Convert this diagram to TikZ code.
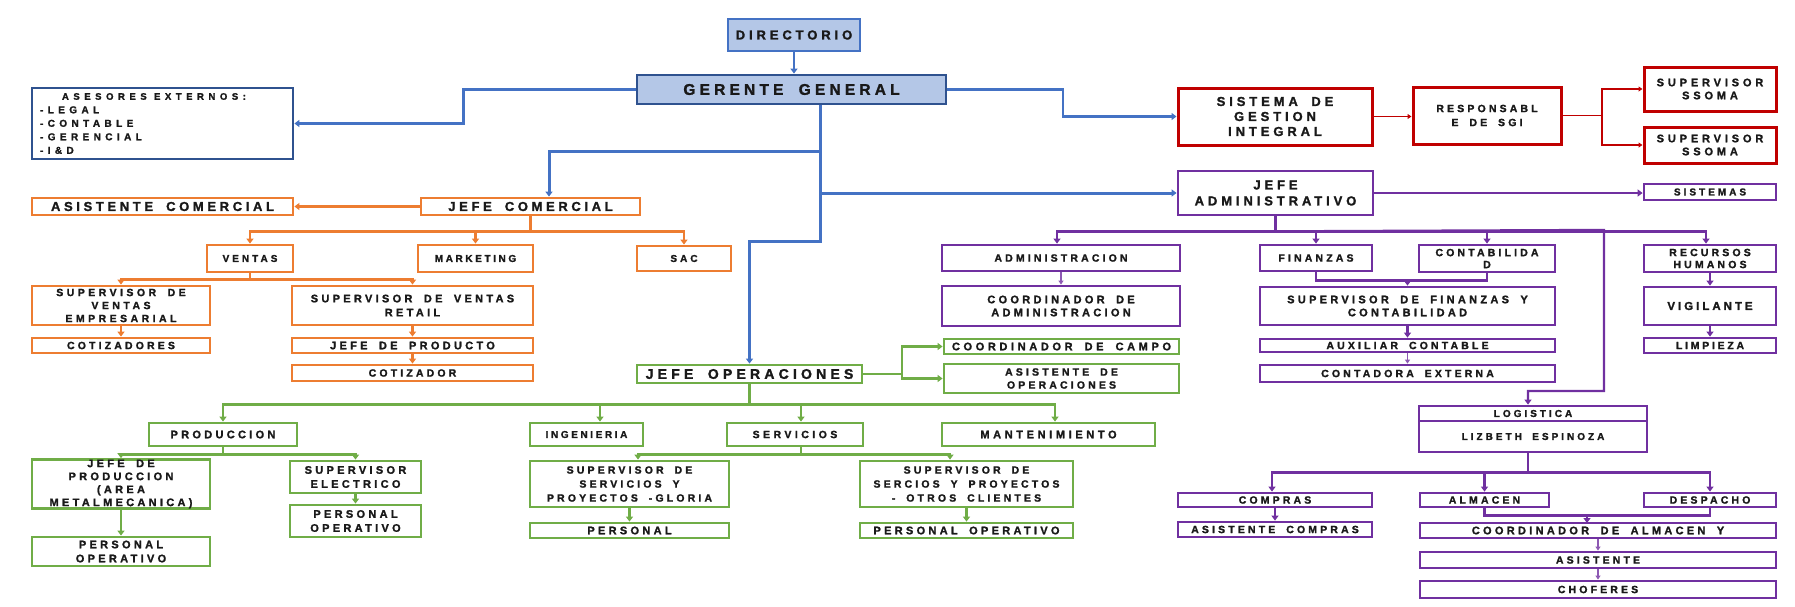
\documentclass[tikz,border=0pt]{standalone}
\usepackage{fontspec}
\setmainfont{Liberation Sans}[WordSpace=1.8, FakeBold=1.5]
\usetikzlibrary{arrows.meta}
\definecolor{cblue}{HTML}{4472C4}
\definecolor{cbluedk}{HTML}{2F528F}
\definecolor{cfill}{HTML}{B4C7E7}
\definecolor{corange}{HTML}{ED7D31}
\definecolor{cgreen}{HTML}{70AD47}
\definecolor{cpurple}{HTML}{7030A0}
\definecolor{cred}{HTML}{C00000}
\pgfdeclarelayer{bg}
\pgfsetlayers{bg,main}
\newcommand\tf[3]{\bfseries\fontsize{#1}{#2}\selectfont\addfontfeature{LetterSpace=#3}}
\newcommand\bx[8]{\node[#2, minimum width={(#5-#3)*1pt}, minimum height={(#6-#4)*1pt}, font={\tf#7}] (#1) at ({(#3+#5)/2},{(#4+#6)/2}) {#8};}
\begin{document}
\begin{tikzpicture}[x=1pt,y=-1pt,
  nb/.style={draw, line width=2.8pt, inner sep=0pt, align=center, fill=white, text=black!90},
  bbox/.style={nb, draw=cblue, fill=cfill},
  obox/.style={nb, draw=corange},
  gbox/.style={nb, draw=cgreen},
  pbox/.style={nb, draw=cpurple},
  rbox/.style={nb, draw=cred, line width=3pt},
  tip/.style={-{Triangle[width=7pt,length=5pt]}},
  bcon/.style={line width=2.4pt, draw=cblue, tip},
  ocon/.style={line width=2.4pt, draw=corange, tip},
  gcon/.style={line width=2.4pt, draw=cgreen, tip},
  pcon/.style={line width=2.4pt, draw=cpurple, tip},
  pthin/.style={line width=1.2pt, draw=cpurple!80, -{Triangle[width=5pt,length=4pt]}},
  rcon/.style={line width=1.5pt, draw=cred, -{Triangle[width=5pt,length=4pt]}}]
\useasboundingbox (0,0) rectangle (1795,606);

% ---------- blue ----------
\bx{dir}{bbox}{728}{19}{860}{51}{{13}{15}{30}}{DIRECTORIO}
\bx{gg}{bbox, draw=cbluedk}{637}{75}{946}{104}{{15.5}{17}{27}}{GERENTE GENERAL}
\node[nb, draw=cbluedk, minimum width=261pt, minimum height=71pt, text width=245pt, align=left, font={\tf{10}{13.5}{44}}] (ases) at (162.5,123.5)
 {{\addfontfeature{LetterSpace=48}\fontsize{9.5}{13.5}\selectfont\hspace*{22pt}ASESORES\hspace{4pt} EXTERNOS:}\\-LEGAL\\-CONTABLE\\-GERENCIAL\\-I\&D};

% ---------- red ----------
\bx{sgi}{rbox}{1178}{88}{1372}{145}{{13}{15}{30}}{SISTEMA DE\\GESTION\\INTEGRAL}
\bx{resp}{rbox}{1413}{87}{1561}{144}{{10.5}{14}{30}}{RESPONSABL\\E DE SGI}
\bx{sup1}{rbox}{1644}{67}{1776}{111}{{11}{13}{35}}{SUPERVISOR\\SSOMA}
\bx{sup2}{rbox}{1644}{127}{1776}{163}{{11}{13}{35}}{SUPERVISOR\\SSOMA}

% ---------- purple ----------
\bx{jadm}{pbox}{1178}{171}{1373}{215}{{13}{16}{30}}{JEFE\\ADMINISTRATIVO}
\bx{sist}{pbox}{1644}{184}{1776}{200}{{10}{11}{30}}{SISTEMAS}
\bx{admin}{pbox}{942}{245}{1180}{271}{{10.5}{12}{30}}{ADMINISTRACION}
\bx{cadmin}{pbox}{942}{286}{1180}{326}{{11}{13}{30}}{COORDINADOR DE\\ADMINISTRACION}
\bx{fin}{pbox}{1260}{245}{1372}{271}{{10.5}{12}{30}}{FINANZAS}
\bx{cont}{pbox}{1419}{245}{1555}{272}{{10.5}{12}{30}}{CONTABILIDA\\D}
\bx{supfin}{pbox}{1260}{287}{1555}{325}{{11}{13}{30}}{SUPERVISOR DE FINANZAS Y\\CONTABILIDAD}
\bx{aux}{pbox}{1260}{339}{1555}{352}{{10.5}{12}{30}}{AUXILIAR CONTABLE}
\bx{ctdr}{pbox}{1260}{365}{1555}{382}{{10.5}{12}{30}}{CONTADORA EXTERNA}
\bx{rrhh}{pbox}{1644}{245}{1776}{272}{{10.5}{12}{30}}{RECURSOS\\HUMANOS}
\bx{vig}{pbox}{1644}{287}{1776}{325}{{11.5}{13}{26}}{VIGILANTE}
\bx{limp}{pbox}{1644}{338}{1776}{353}{{10.5}{12}{26}}{LIMPIEZA}
\bx{log}{pbox}{1419}{406}{1647}{421}{{10}{11}{30}}{LOGISTICA}
\bx{liz}{pbox}{1419}{421}{1647}{452}{{10}{11}{30}}{LIZBETH ESPINOZA}
\bx{comp}{pbox}{1178}{493}{1372}{507}{{10.5}{12}{30}}{COMPRAS}
\bx{acomp}{pbox}{1178}{522}{1372}{537}{{10.5}{12}{30}}{ASISTENTE COMPRAS}
\bx{alm}{pbox}{1420}{493}{1549}{507}{{10.5}{12}{30}}{ALMACEN}
\bx{desp}{pbox}{1644}{493}{1776}{507}{{10.5}{12}{30}}{DESPACHO}
\bx{calm}{pbox}{1420}{523}{1776}{538}{{11}{12}{30}}{COORDINADOR DE ALMACEN Y}
\bx{asis}{pbox}{1420}{552}{1776}{568}{{10.5}{12}{30}}{ASISTENTE}
\bx{chof}{pbox}{1420}{581}{1776}{598}{{10.5}{12}{30}}{CHOFERES}

% ---------- orange ----------
\bx{acom}{obox}{32}{198}{293}{215}{{13}{15}{28}}{ASISTENTE COMERCIAL}
\bx{jcom}{obox}{421}{198}{640}{215}{{13}{15}{28}}{JEFE COMERCIAL}
\bx{ven}{obox}{207}{245}{293}{272}{{10}{12}{30}}{VENTAS}
\bx{mkt}{obox}{418}{245}{533}{272}{{10}{12}{26}}{MARKETING}
\bx{sac}{obox}{637}{246}{731}{271}{{10}{12}{30}}{SAC}
\bx{sve}{obox}{32}{286}{210}{325}{{10.5}{13}{33}}{SUPERVISOR DE\\VENTAS\\EMPRESARIAL}
\bx{svr}{obox}{292}{286}{533}{325}{{11}{14}{30}}{SUPERVISOR DE VENTAS\\RETAIL}
\bx{cotz}{obox}{32}{338}{210}{353}{{10.5}{12}{30}}{COTIZADORES}
\bx{jprod}{obox}{292}{338}{533}{353}{{11}{12}{30}}{JEFE DE PRODUCTO}
\bx{cotr}{obox}{292}{365}{533}{381}{{10.5}{12}{30}}{COTIZADOR}

% ---------- green ----------
\bx{jop}{gbox}{637}{365}{862}{383}{{14}{16}{30}}{JEFE OPERACIONES}
\bx{ccampo}{gbox}{944}{339}{1179}{354}{{11}{12}{33}}{COORDINADOR DE CAMPO}
\bx{aoper}{gbox}{944}{364}{1179}{393}{{10.5}{13}{30}}{ASISTENTE DE\\OPERACIONES}
\bx{prod}{gbox}{149}{423}{297}{446}{{11}{12}{30}}{PRODUCCION}
\bx{ing}{gbox}{530}{423}{643}{446}{{10}{12}{26}}{INGENIERIA}
\bx{serv}{gbox}{727}{423}{863}{446}{{10.5}{12}{33}}{SERVICIOS}
\bx{mant}{gbox}{942}{423}{1155}{446}{{11}{12}{33}}{MANTENIMIENTO}
\bx{jpr}{gbox}{32}{461}{210}{507}{{11}{13}{30}}{JEFE DE\\PRODUCCION\\(AREA\\METALMECANICA)}
\bx{sel}{gbox}{290}{461}{421}{493}{{11}{14}{30}}{SUPERVISOR\\ELECTRICO}
\bx{poA}{gbox}{32}{537}{210}{566}{{11}{14}{30}}{PERSONAL\\OPERATIVO}
\bx{poB}{gbox}{290}{505}{421}{537}{{11}{14}{30}}{PERSONAL\\OPERATIVO}
\bx{ssg}{gbox}{530}{461}{729}{507}{{10.5}{14}{30}}{SUPERVISOR DE\\SERVICIOS Y\\PROYECTOS -GLORIA}
\bx{pers}{gbox}{530}{523}{729}{538}{{11}{12}{30}}{PERSONAL}
\bx{sso}{gbox}{860}{461}{1073}{507}{{10.5}{14}{30}}{SUPERVISOR DE\\SERCIOS Y PROYECTOS\\- OTROS CLIENTES}
\bx{poC}{gbox}{860}{523}{1073}{538}{{11}{12}{30}}{PERSONAL OPERATIVO}

\begin{pgfonlayer}{bg}
% blue
\draw[bcon] (dir.south) -- (dir.south |- gg.north);
\draw[bcon] (gg.west) -- ++(-172,0) |- (ases.east);
\coordinate (gT) at ([xshift=28.5pt]gg.south);
\draw[bcon, line width=3pt] (gT) -- (820,151) -| ([xshift=18.5pt]jcom.north);
\draw[bcon, line width=3pt] (gT) |- (jadm.west);
\draw[bcon, line width=3pt] (gT) -- (820,241) -| (jop.north);
\draw[bcon] (gg.east) -- (1063,89.5) |- (sgi.west);
% red
\draw[rcon] (sgi.east) -- (sgi.east -| resp.west);
\draw[rcon] (resp.east) -- (1602,115.5) |- (sup1.west);
\draw[rcon] (resp.east) -- (1602,115.5) |- (sup2.west);
% orange
\draw[ocon] (jcom.west) -- (acom.east);
\draw[ocon] (jcom.south) -- ++(0,15) -| (ven.north);
\draw[ocon] (jcom.south) -- ++(0,15) -| (mkt.north);
\draw[ocon] (jcom.south) -- ++(0,15) -| (sac.north);
\draw[ocon] (ven.south) -- ++(0,6) -| (sve.north);
\draw[ocon] (ven.south) -- ++(0,6) -| (svr.north);
\draw[ocon] (sve.south) -- (cotz.north);
\draw[ocon] (svr.south) -- (jprod.north);
\draw[ocon] (jprod.south) -- (cotr.north);
% green
\draw[gcon] (jop.east) -- (902,374) |- (ccampo.west);
\draw[gcon] (jop.east) -- (902,374) |- (aoper.west);
\draw[gcon] (jop.south) -- ++(0,20) -| (prod.north);
\draw[gcon] (jop.south) -- ++(0,20) -| ([xshift=13.5pt]ing.north);
\draw[gcon] (jop.south) -- ++(0,20) -| ([xshift=6pt]serv.north);
\draw[gcon] (jop.south) -- ++(0,20) -| ([xshift=6.5pt]mant.north);
\draw[gcon] (prod.south) -- ++(0,7) -| (jpr.north);
\draw[gcon] (prod.south) -- ++(0,7) -| (sel.north);
\draw[gcon] (jpr.south) -- (poA.north);
\draw[gcon] (sel.south) -- (poB.north);
\draw[gcon] ([xshift=6pt]serv.south) -- ++(0,7) -| ([xshift=8.5pt]ssg.north);
\draw[gcon] ([xshift=6pt]serv.south) -- ++(0,7) -| ([xshift=-16.5pt]sso.north);
\draw[gcon] (ssg.south) -- (pers.north);
\draw[gcon] (sso.south) -- (poC.north);
% purple
\draw[pcon] (jadm.east) -- (jadm.east -| sist.west);
\draw[pcon] (jadm.south) -- ++(0,15) -| ([xshift=-4pt]admin.north);
\draw[pcon] (jadm.south) -- ++(0,15) -| (fin.north);
\draw[pcon] (jadm.south) -- ++(0,15) -| (cont.north);
\draw[pcon] (jadm.south) -- ++(0,15) -| ([xshift=-4pt]rrhh.north);
\draw[pcon] (jadm.south) -- ++(0,15) -- (1604,230) -- (1604,391) -| ([xshift=-5pt]log.north);
\draw[pthin] (admin.south) -- (cadmin.north);
\draw[pcon, -] (fin.south) -- ++(0,8) -| (cont.south);
\draw[pcon] (1407.5,279) -- (supfin.north);
\draw[pcon] (supfin.south) -- (aux.north);
\draw[pthin] (aux.south) -- (ctdr.north);
\draw[pcon] (rrhh.south) -- (vig.north);
\draw[pcon] (vig.south) -- (limp.north);
\draw[pcon] ([xshift=-5pt]liz.south) -- ++(0,19) -| ([xshift=-3pt]comp.north);
\draw[pcon] ([xshift=-5pt]liz.south) -- ++(0,19) -| (alm.north);
\draw[pcon] ([xshift=-5pt]liz.south) -- ++(0,19) -| (desp.north);
\draw[pcon] (comp.south) -- (acomp.north);
\draw[pcon, -] (alm.south) -- ++(0,7) -| (desp.south);
\draw[pcon] (1587,514) -- (1587,523);
\draw[pthin] (calm.south) -- (asis.north);
\draw[pthin] (asis.south) -- (chof.north);
\end{pgfonlayer}
\end{tikzpicture}
\end{document}
